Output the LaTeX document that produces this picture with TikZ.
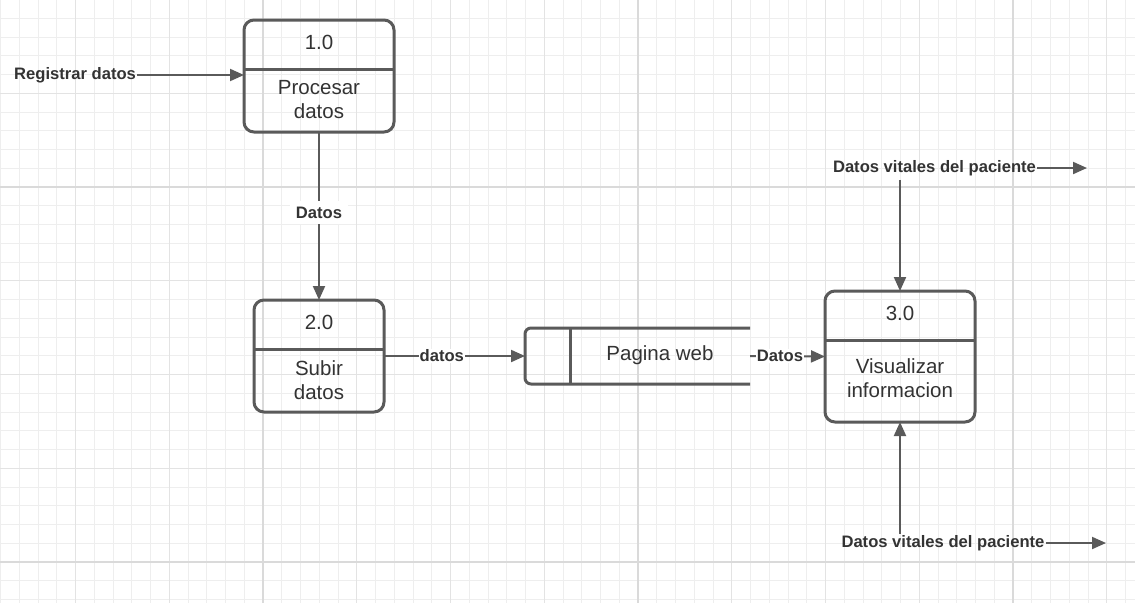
\documentclass[tikz,border=0pt]{standalone}
\usepackage{fontspec}
\setmainfont{Liberation Sans}
\usetikzlibrary{arrows.meta}
\definecolor{linegray}{HTML}{5A5A5A}
\definecolor{textgray}{HTML}{333333}
\definecolor{gridminor}{HTML}{EEEEEE}
\definecolor{gridmid}{HTML}{E3E3E3}
\definecolor{gridmajor}{HTML}{DADADA}
\begin{document}
\begin{tikzpicture}[x=1pt, y=-1pt,
  proc/.style = {draw=linegray, line width=3, rounded corners=10, outer sep=0, inner sep=0},
  num/.style = {font=\fontsize{20.5}{24}\selectfont, text=textgray},
  flow/.style = {font=\bfseries\fontsize{16.6}{19}\selectfont, text=textgray, inner sep=1},
  arr/.style = {draw=linegray, line width=2, -{Triangle[length=14pt,width=12pt]}}]
\useasboundingbox (0,0) rectangle (1135,603);
\fill[white] (0,0) rectangle (1135,603);
% grid
\foreach \k in {0,...,60} \draw[gridminor, line width=1] (0.5+18.75*\k,0) -- (0.5+18.75*\k,603);
\foreach \k in {0,...,31} \draw[gridminor, line width=1] (0,18.25+18.75*\k) -- (1135,18.25+18.75*\k);
\foreach \k in {4,9,...,59} \draw[gridmid, line width=1.3] (0.5+18.75*\k,0) -- (0.5+18.75*\k,603);
\foreach \k in {4,9,...,29} \draw[gridmid, line width=1.3] (0,18.25+18.75*\k) -- (1135,18.25+18.75*\k);
\foreach \k in {14,34,54} \draw[gridmajor, line width=2] (0.5+18.75*\k,0) -- (0.5+18.75*\k,603);
\foreach \k in {9,29} \draw[gridmajor, line width=2] (0,18.25+18.75*\k) -- (1135,18.25+18.75*\k);

% processes
\node[proc, minimum width=150, minimum height=112] (p1) at (319,76) {};
\draw[linegray, line width=3] ([yshift=-49]p1.north west) -- ([yshift=-49]p1.north east);
\node[num] at ([yshift=-22]p1.north) {1.0};
\node[num, align=center] at ([yshift=-80]p1.north) {Procesar\\datos};

\node[proc, minimum width=130, minimum height=112] (p2) at (319,356) {};
\draw[linegray, line width=3] ([yshift=-49]p2.north west) -- ([yshift=-49]p2.north east);
\node[num] at ([yshift=-22]p2.north) {2.0};
\node[num, align=center] at ([yshift=-80]p2.north) {Subir\\datos};

\node[proc, minimum width=150, minimum height=131] (p3) at (900,356.5) {};
\draw[linegray, line width=3] ([yshift=-49]p3.north west) -- ([yshift=-49]p3.north east);
\node[num] at ([yshift=-22]p3.north) {3.0};
\node[num, align=center] at ([yshift=-87]p3.north) {Visualizar\\informacion};

% data store
\node[minimum width=225, minimum height=56, inner sep=0, outer sep=0] (pw) at (637.5,356) {};
\draw[linegray, line width=3, rounded corners=6] (pw.north east) -- (pw.north west) -- (pw.south west) -- (pw.south east);
\draw[linegray, line width=3] ([xshift=45]pw.north west) -- ([xshift=45]pw.south west);
\node[num] at ([xshift=22.5,yshift=1]pw.center) {Pagina web};

% flows
\node[flow, anchor=west] (reg) at (13,75) {Registrar datos};
\draw[arr] (reg.east) -- (reg.east -| p1.west);
\draw[arr] (p1.south) -- node[flow, fill=white, inner sep=6, pos=0.48] {Datos} (p2.north);
\draw[arr] (p2.east) -- node[flow, fill=white, pos=0.41] {datos} (pw.west);
\draw[arr] (pw.east) -- node[flow, fill=white, pos=0.4] {Datos} (p3.west);

\node[flow] (dv1) at (934.5,168) {Datos vitales del paciente};
\coordinate (dv1end) at (1087,168);
\draw[arr] (dv1.east) -- (dv1end);
\draw[arr, shorten <=3pt] (p3.north |- dv1.south) -- (p3.north);

\node[flow] (dv2) at (943,543) {Datos vitales del paciente};
\coordinate (dv2end) at (1106,543);
\draw[arr] (dv2.east) -- (dv2end);
\draw[arr] (p3.south |- dv2.north) -- (p3.south);
\end{tikzpicture}
\end{document}
